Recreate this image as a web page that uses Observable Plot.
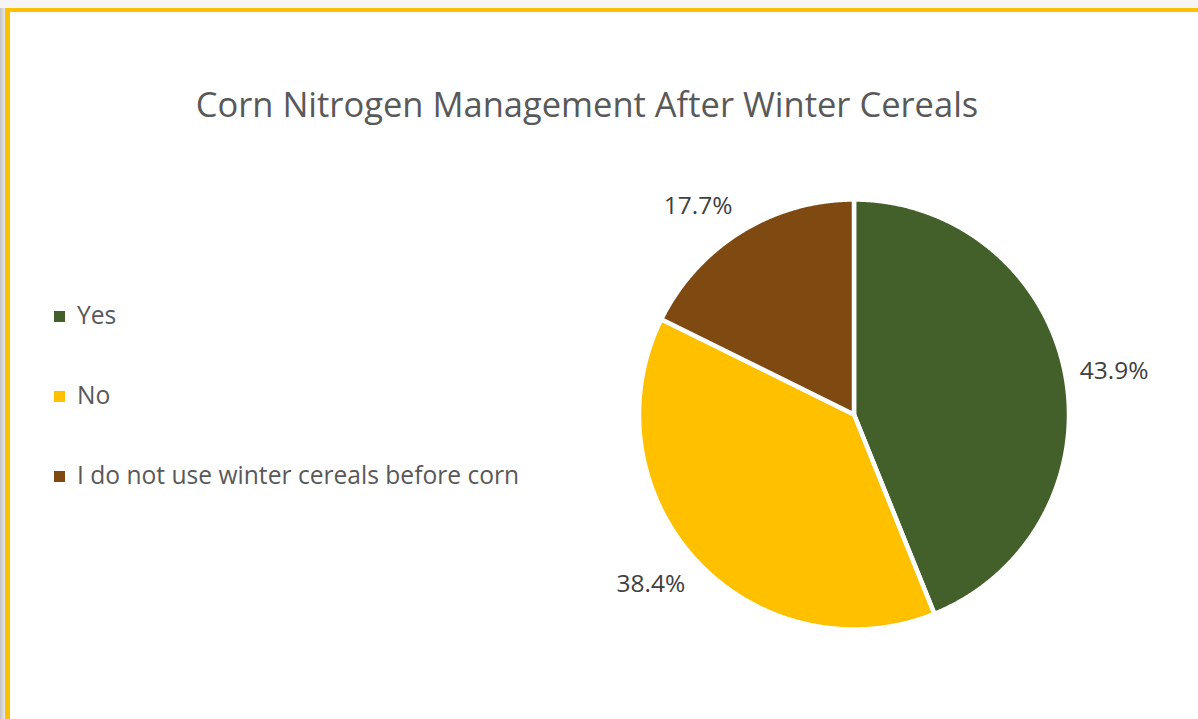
<!DOCTYPE html>
<html>
<head>
<meta charset="utf-8">
<script src="https://cdn.jsdelivr.net/npm/d3@7"></script>
<script src="https://cdn.jsdelivr.net/npm/@observablehq/plot@0.6"></script>
<style>
  html, body { margin: 0; padding: 0; width: 1198px; height: 719px; overflow: hidden; background: #f5f5f5; font-family: "Open Sans", sans-serif; }
  #shadow { position: absolute; left: 0; top: 8px; width: 5px; height: 720px; background: linear-gradient(to right, #c4c4c4, #e8e8e8); }
  #frame { position: absolute; left: 5px; top: 8px; width: 1300px; height: 800px; background: #fff; border-top: 4px solid #FFC000; border-left: 5px solid #FFC000; }
  #title { position: absolute; left: 0; top: 87px; width: 1174px; text-align: center; font-size: 34.5px; line-height: 34.5px; color: #595959; white-space: nowrap; }
  #chart { position: absolute; left: 0; top: 0; }
  .item { position: absolute; left: 0; height: 24px; font-size: 24.6px; line-height: 24px; color: #595959; white-space: nowrap; }
  .sw { position: absolute; left: 54px; top: 8px; width: 11px; height: 11px; }
  .lbl { position: absolute; left: 77px; top: 0; }
</style>
</head>
<body>
<div id="shadow"></div>
<div id="frame"></div>
<div id="chart"></div>
<div id="title"></div>
<div id="legend"></div>
<script>
// ---- data ----
const titleText = "Corn Nitrogen Management After Winter Cereals";
const categories = ["Yes", "No", "I do not use winter cereals before corn"];
const shares = [43.9, 38.4, 17.7];
const colors = ["#43602B", "#FFC000", "#7E4A12"];

// ---- layout ----
const W = 1198, H = 719;
const cx = 853.5, cy = 414, R = 215;

const rows = categories.map((name, i) => ({name, value: shares[i]}));
const arcs = d3.pie().sort(null).value(d => d.value).startAngle(0).endAngle(2 * Math.PI)(rows);

// polygon outline for each slice (geometry of the arc, from the data angles)
const outline = [];
for (const a of arcs) {
  const n = Math.max(2, Math.ceil((a.endAngle - a.startAngle) / 0.005));
  outline.push({name: a.data.name, x: 0, y: 0});
  for (let k = 0; k <= n; k++) {
    const t = a.startAngle + (a.endAngle - a.startAngle) * k / n;
    outline.push({name: a.data.name, x: Math.sin(t), y: Math.cos(t)});
  }
}

// label anchors just outside the pie
const labels = arcs.map(a => {
  const m = (a.startAngle + a.endAngle) / 2;
  const sx = Math.sin(m), sy = Math.cos(m);
  const off = Math.abs(sy) > 0.5 ? Math.sign(sy) * 13 / R : 0;
  return {name: a.data.name, text: a.data.value.toFixed(1) + "%", sx, x: 1.07 * sx, y: 1.07 * sy + off};
});

const plot = Plot.plot({
  width: W,
  height: H,
  margin: 0,
  style: {background: "transparent", fontFamily: "'Open Sans', sans-serif"},
  x: {domain: [-1, 1], range: [cx - R, cx + R], axis: null},
  y: {domain: [-1, 1], range: [cy + R, cy - R], axis: null},
  color: {domain: categories, range: colors},
  marks: [
    Plot.line(outline, {x: "x", y: "y", z: "name", fill: "name", stroke: "white", strokeWidth: 4.5, strokeLinejoin: "round", curve: "linear-closed"}),
    Plot.text(labels.filter(d => d.sx >= 0), {x: "x", y: "y", text: "text", textAnchor: "start", fontSize: 24.5, fill: "#404040"}),
    Plot.text(labels.filter(d => d.sx < 0), {x: "x", y: "y", text: "text", textAnchor: "end", fontSize: 24.5, fill: "#404040"})
  ]
});
document.getElementById("chart").appendChild(plot);

document.getElementById("title").textContent = titleText;

const legend = document.getElementById("legend");
const baselines = [324, 404, 484];
categories.forEach((name, i) => {
  const item = document.createElement("div");
  item.className = "item";
  item.style.top = (baselines[i] - 21.3) + "px";
  const sw = document.createElement("div");
  sw.className = "sw";
  sw.style.background = colors[i];
  const lb = document.createElement("div");
  lb.className = "lbl";
  lb.textContent = name;
  item.appendChild(sw);
  item.appendChild(lb);
  legend.appendChild(item);
});
</script>
</body>
</html>
